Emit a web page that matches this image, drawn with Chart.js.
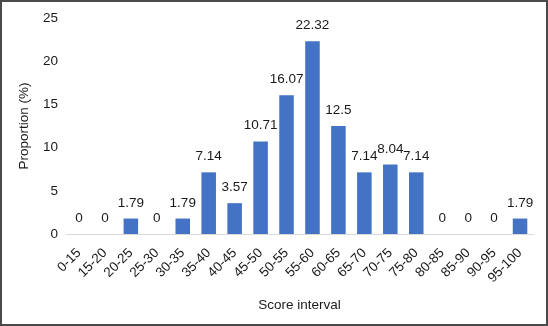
<!DOCTYPE html>
<html>
<head>
<meta charset="utf-8">
<script src="https://cdn.jsdelivr.net/npm/chart.js@4/dist/chart.umd.min.js"></script>
<style>
  html, body { margin: 0; padding: 0; background: #fff; }
  #wrap { width: 548px; height: 326px; box-sizing: border-box; border: 2px solid #4a4a4a; background: #fff; }
</style>
</head>
<body>
<div id="wrap"><canvas id="chart" width="544" height="322"></canvas></div>
<script>
const intervals = ['0-15', '15-20', '20-25', '25-30', '30-35', '35-40', '40-45', '45-50', '50-55',
    '55-60', '60-65', '65-70', '70-75', '75-80', '80-85', '85-90', '90-95', '95-100'];
const proportions = [0, 0, 1.79, 0, 1.79, 7.14, 3.57, 10.71, 16.07, 22.32, 12.5, 7.14, 8.04, 7.14, 0, 0, 0, 1.79];
const yTicks = [0, 5, 10, 15, 20, 25];

const font = '"Liberation Sans", Arial, sans-serif';
const fs = 13.5;
Chart.defaults.font.family = font;
Chart.defaults.color = '#1a1a1a';

// popisky hodnot nad sloupci
const valueLabels = {
    id: 'valueLabels',
    afterDatasetsDraw(chart) {
        const ctx = chart.ctx;
        const meta = chart.getDatasetMeta(0);
        ctx.save();
        ctx.font = fs + 'px ' + font;
        ctx.fillStyle = '#1a1a1a';
        ctx.textAlign = 'center';
        ctx.textBaseline = 'bottom';
        meta.data.forEach((bar, i) => {
            ctx.fillText(String(proportions[i]), bar.x, bar.y - 9);
        });
        ctx.restore();
    },
};

new Chart(document.getElementById('chart'), {
    type: 'bar',
    data: {
        labels: intervals,
        datasets: [{
            data: proportions,
            backgroundColor: '#4472c4',
            borderWidth: 0,
            categoryPercentage: 1,
            barPercentage: 0.56,
        }],
    },
    options: {
        responsive: false,
        animation: false,
        layout: { padding: { top: 16, right: 13, left: 0, bottom: 4 } },
        plugins: { legend: { display: false }, tooltip: { enabled: false } },
        scales: {
            x: {
                afterFit: (axis) => { axis.height = 86; },
                grid: { display: false, drawTicks: false },
                border: { display: true, color: '#d9d9d9', width: 1 },
                ticks: { autoSkip: false, minRotation: 45, maxRotation: 45, font: { size: fs }, padding: 11, color: '#1a1a1a' },
                title: { display: true, text: 'Score interval', font: { size: fs }, color: '#1a1a1a', padding: { top: 4, bottom: 7 } },
            },
            y: {
                min: 0, max: 25,
                afterBuildTicks: (axis) => { axis.ticks = yTicks.map((v) => ({ value: v })); },
                afterFit: (axis) => { axis.width = 64; },
                grid: { display: false, drawTicks: false },
                border: { display: false },
                ticks: { font: { size: fs }, padding: 8, color: '#1a1a1a' },
                title: { display: true, text: 'Proportion (%)', font: { size: fs }, color: '#1a1a1a', padding: { top: 14, bottom: 4 } },
            },
        },
    },
    plugins: [valueLabels],
});
</script>
</body>
</html>
